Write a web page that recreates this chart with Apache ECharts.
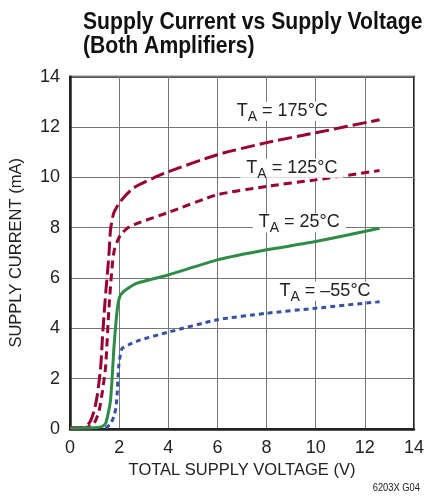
<!DOCTYPE html>
<html>
<head>
<meta charset="utf-8">
<script src="https://cdn.jsdelivr.net/npm/echarts@6/dist/echarts.min.js"></script>
<style>
  html, body { margin: 0; padding: 0; background: #fff; }
  #chart { width: 427px; height: 498px; }
</style>
</head>
<body>
<div id="chart"></div>
<script>
// supply voltage (V), supply current (mA)
const t175 = [[0,0.05],[0.5,0.06],[0.72,0.16],[0.85,0.35],[0.99,0.75],[1.12,1.4],[1.25,2.48],[1.32,3.6],[1.39,4.6],[1.47,5.6],[1.58,6.85],[1.65,7.92],[1.78,8.58],[2.05,9.04],[2.57,9.57],[3.84,10.16],[6,10.9],[8,11.38],[10,11.77],[12.6,12.29]];
const t125 = [[0,0.03],[0.6,0.04],[0.92,0.16],[1.05,0.35],[1.19,0.75],[1.32,1.5],[1.45,2.48],[1.58,4.73],[1.67,5.93],[1.73,6.6],[1.8,7.1],[1.9,7.4],[2.05,7.7],[2.33,7.98],[2.71,8.16],[3.96,8.59],[6,9.31],[8,9.64],[10,9.9],[12.6,10.27]];
const t25 = [[0,0.03],[1.12,0.06],[1.3,0.1],[1.45,0.22],[1.55,0.6],[1.65,1.15],[1.72,2.1],[1.78,3.13],[1.85,4.0],[1.92,4.72],[1.98,5.1],[2.06,5.33],[2.3,5.55],[2.71,5.79],[3.96,6.11],[6,6.72],[8,7.12],[10,7.45],[12.6,7.98]];
const tm55 = [[1.45,0.03],[1.52,0.09],[1.65,0.2],[1.78,0.49],[1.87,0.85],[1.92,1.42],[1.98,2.47],[2.05,2.95],[2.12,3.2],[2.4,3.35],[2.84,3.53],[3.97,3.84],[6,4.34],[8,4.6],[10,4.8],[12.6,5.06]];

const seriesNames = ['175°C', '125°C', '25°C', '–55°C'];
const labelCoords = [[8.64,12.63],[9.03,10.36],[9.33,8.19],[10.38,5.47]];

const font = '"Liberation Sans", Arial, sans-serif';
const chart = echarts.init(document.getElementById('chart'));

function tempLabel(i) {
    return {
        symbol: 'rect',
        symbolSize: 0,
        silent: true,
        data: [{ coord: labelCoords[i] }],
        label: {
            show: true,
            position: 'inside',
            backgroundColor: '#fff',
            padding: [0, 6, 0, 6],
            formatter: '{t|T}{s|A}{t| = ' + seriesNames[i] + '}',
            rich: {
                t: { fontFamily: font, fontSize: 18, color: '#222', lineHeight: 19, verticalAlign: 'top' },
                s: { fontFamily: font, fontSize: 14, color: '#222', lineHeight: 14, verticalAlign: 'top', padding: [8, 0, 0, 0] }
            }
        }
    };
}

function line(data, color, dash, i) {
    return {
        type: 'line',
        data: data,
        smooth: 0.2,
        showSymbol: false,
        lineStyle: { color: color, width: 3, type: dash },
        markPoint: tempLabel(i),
        z: 3
    };
}

chart.setOption({
    animation: false,
    grid: {
        left: 68.5, right: 6.7, top: 76.7, bottom: 69,
        show: true, borderColor: '#222', borderWidth: 2
    },
    xAxis: {
        type: 'value', min: 0, max: 14, interval: 2,
        name: 'TOTAL SUPPLY VOLTAGE (V)',
        nameLocation: 'middle', nameGap: 33,
        nameTextStyle: { fontFamily: font, fontSize: 16.5, color: '#222' },
        axisLine: { lineStyle: { color: '#222', width: 2.5 } },
        axisTick: { show: false },
        axisLabel: { fontFamily: font, fontSize: 18, color: '#222', margin: 10 },
        splitLine: { lineStyle: { color: '#777', width: 1 } }
    },
    yAxis: {
        type: 'value', min: 0, max: 14, interval: 2,
        name: 'SUPPLY CURRENT (mA)',
        nameLocation: 'middle', nameGap: 45,
        nameTextStyle: { fontFamily: font, fontSize: 16.5, color: '#222' },
        axisLine: { show: true, lineStyle: { color: '#222', width: 2.5 } },
        axisTick: { show: false },
        axisLabel: { fontFamily: font, fontSize: 18, color: '#222', margin: 10 },
        splitLine: { lineStyle: { color: '#777', width: 1 } }
    },
    graphic: [
        {
            type: 'text', x: 83, y: 11, scaleX: 0.92,
            style: { text: 'Supply Current vs Supply Voltage', font: 'bold 23px ' + font, fill: '#111' }
        },
        {
            type: 'text', x: 83, y: 35, scaleX: 0.92,
            style: { text: '(Both Amplifiers)', font: 'bold 23px ' + font, fill: '#111' }
        },
        {
            type: 'text', x: 420, y: 482, scaleX: 0.85,
            style: { text: '6203X G04', font: '11px ' + font, fill: '#222', align: 'right' }
        }
    ],
    series: [
        line(t175, '#990033', [14, 5], 0),
        line(t125, '#990033', [8, 5], 1),
        line(t25, '#2f8c47', 'solid', 2),
        line(tm55, '#3550a4', [5, 4], 3)
    ]
});
</script>
</body>
</html>
